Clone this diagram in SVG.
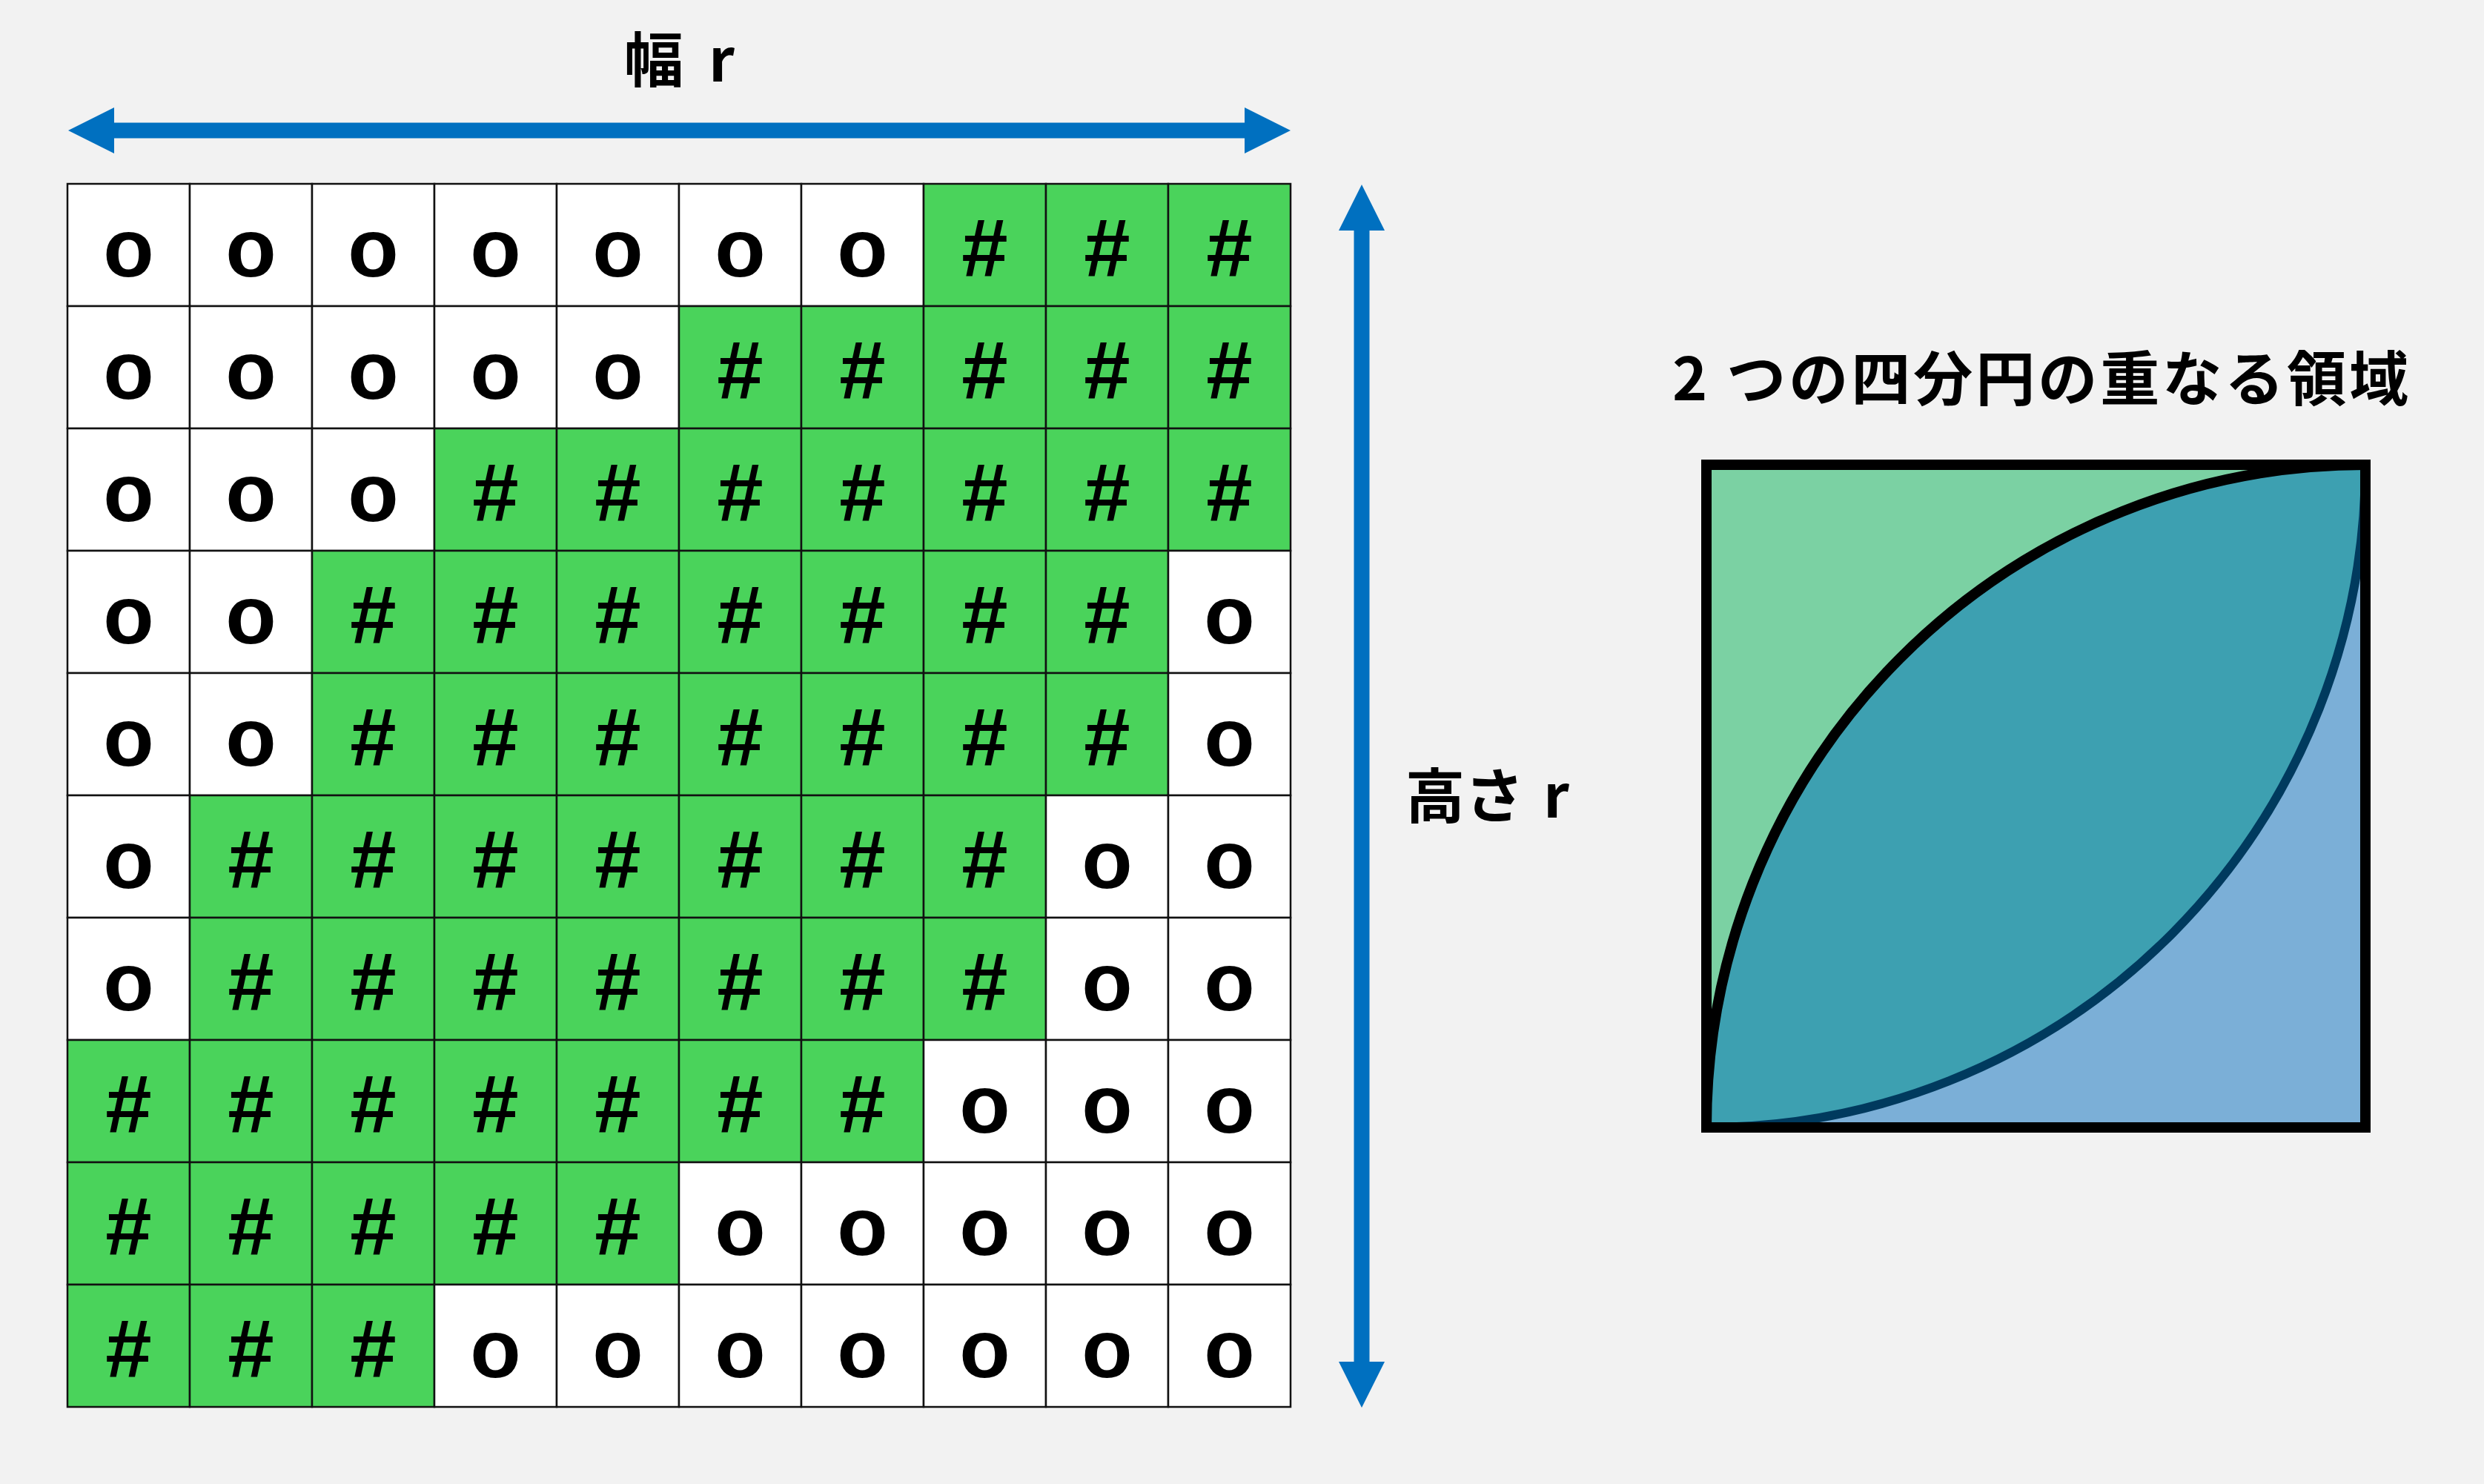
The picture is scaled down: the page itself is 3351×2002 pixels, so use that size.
<svg xmlns="http://www.w3.org/2000/svg" width="3351" height="2002" viewBox="0 0 3351 2002">
<style>
.w{fill:#FFFFFF;stroke:#111111;stroke-width:2.5}
.g{fill:#4AD35B;stroke:#111111;stroke-width:2.5}
.t{font-family:"Liberation Sans",Arial,sans-serif;font-weight:bold;font-size:112px;text-anchor:middle;fill:#000000}
.lbl{font-family:"Noto Sans CJK JP","Noto Sans",sans-serif;font-weight:bold;font-size:80px;fill:#000000}
.arr{stroke:#0070C0;stroke-width:21;fill:none}
</style>
<defs>
<marker id="ah" viewBox="0 0 62 62" markerUnits="userSpaceOnUse" markerWidth="62" markerHeight="62" refX="0" refY="31" orient="auto-start-reverse">
<path d="M0,0 L62,31 L0,62 Z" fill="#0070C0"/>
</marker>
</defs>
<rect x="0" y="0" width="3351" height="2002" fill="#F2F2F2"/>

<g id="grid">
<g id="c0-0"><rect class="w" x="91" y="248" width="165" height="165"/><text class="t" x="173.5" y="373">o</text></g>
<g id="c0-1"><rect class="w" x="256" y="248" width="165" height="165"/><text class="t" x="338.5" y="373">o</text></g>
<g id="c0-2"><rect class="w" x="421" y="248" width="165" height="165"/><text class="t" x="503.5" y="373">o</text></g>
<g id="c0-3"><rect class="w" x="586" y="248" width="165" height="165"/><text class="t" x="668.5" y="373">o</text></g>
<g id="c0-4"><rect class="w" x="751" y="248" width="165" height="165"/><text class="t" x="833.5" y="373">o</text></g>
<g id="c0-5"><rect class="w" x="916" y="248" width="165" height="165"/><text class="t" x="998.5" y="373">o</text></g>
<g id="c0-6"><rect class="w" x="1081" y="248" width="165" height="165"/><text class="t" x="1163.5" y="373">o</text></g>
<g id="c0-7"><rect class="g" x="1246" y="248" width="165" height="165"/><text class="t" x="1328.5" y="373">#</text></g>
<g id="c0-8"><rect class="g" x="1411" y="248" width="165" height="165"/><text class="t" x="1493.5" y="373">#</text></g>
<g id="c0-9"><rect class="g" x="1576" y="248" width="165" height="165"/><text class="t" x="1658.5" y="373">#</text></g>

<g id="c1-0"><rect class="w" x="91" y="413" width="165" height="165"/><text class="t" x="173.5" y="538">o</text></g>
<g id="c1-1"><rect class="w" x="256" y="413" width="165" height="165"/><text class="t" x="338.5" y="538">o</text></g>
<g id="c1-2"><rect class="w" x="421" y="413" width="165" height="165"/><text class="t" x="503.5" y="538">o</text></g>
<g id="c1-3"><rect class="w" x="586" y="413" width="165" height="165"/><text class="t" x="668.5" y="538">o</text></g>
<g id="c1-4"><rect class="w" x="751" y="413" width="165" height="165"/><text class="t" x="833.5" y="538">o</text></g>
<g id="c1-5"><rect class="g" x="916" y="413" width="165" height="165"/><text class="t" x="998.5" y="538">#</text></g>
<g id="c1-6"><rect class="g" x="1081" y="413" width="165" height="165"/><text class="t" x="1163.5" y="538">#</text></g>
<g id="c1-7"><rect class="g" x="1246" y="413" width="165" height="165"/><text class="t" x="1328.5" y="538">#</text></g>
<g id="c1-8"><rect class="g" x="1411" y="413" width="165" height="165"/><text class="t" x="1493.5" y="538">#</text></g>
<g id="c1-9"><rect class="g" x="1576" y="413" width="165" height="165"/><text class="t" x="1658.5" y="538">#</text></g>

<g id="c2-0"><rect class="w" x="91" y="578" width="165" height="165"/><text class="t" x="173.5" y="703">o</text></g>
<g id="c2-1"><rect class="w" x="256" y="578" width="165" height="165"/><text class="t" x="338.5" y="703">o</text></g>
<g id="c2-2"><rect class="w" x="421" y="578" width="165" height="165"/><text class="t" x="503.5" y="703">o</text></g>
<g id="c2-3"><rect class="g" x="586" y="578" width="165" height="165"/><text class="t" x="668.5" y="703">#</text></g>
<g id="c2-4"><rect class="g" x="751" y="578" width="165" height="165"/><text class="t" x="833.5" y="703">#</text></g>
<g id="c2-5"><rect class="g" x="916" y="578" width="165" height="165"/><text class="t" x="998.5" y="703">#</text></g>
<g id="c2-6"><rect class="g" x="1081" y="578" width="165" height="165"/><text class="t" x="1163.5" y="703">#</text></g>
<g id="c2-7"><rect class="g" x="1246" y="578" width="165" height="165"/><text class="t" x="1328.5" y="703">#</text></g>
<g id="c2-8"><rect class="g" x="1411" y="578" width="165" height="165"/><text class="t" x="1493.5" y="703">#</text></g>
<g id="c2-9"><rect class="g" x="1576" y="578" width="165" height="165"/><text class="t" x="1658.5" y="703">#</text></g>

<g id="c3-0"><rect class="w" x="91" y="743" width="165" height="165"/><text class="t" x="173.5" y="868">o</text></g>
<g id="c3-1"><rect class="w" x="256" y="743" width="165" height="165"/><text class="t" x="338.5" y="868">o</text></g>
<g id="c3-2"><rect class="g" x="421" y="743" width="165" height="165"/><text class="t" x="503.5" y="868">#</text></g>
<g id="c3-3"><rect class="g" x="586" y="743" width="165" height="165"/><text class="t" x="668.5" y="868">#</text></g>
<g id="c3-4"><rect class="g" x="751" y="743" width="165" height="165"/><text class="t" x="833.5" y="868">#</text></g>
<g id="c3-5"><rect class="g" x="916" y="743" width="165" height="165"/><text class="t" x="998.5" y="868">#</text></g>
<g id="c3-6"><rect class="g" x="1081" y="743" width="165" height="165"/><text class="t" x="1163.5" y="868">#</text></g>
<g id="c3-7"><rect class="g" x="1246" y="743" width="165" height="165"/><text class="t" x="1328.5" y="868">#</text></g>
<g id="c3-8"><rect class="g" x="1411" y="743" width="165" height="165"/><text class="t" x="1493.5" y="868">#</text></g>
<g id="c3-9"><rect class="w" x="1576" y="743" width="165" height="165"/><text class="t" x="1658.5" y="868">o</text></g>

<g id="c4-0"><rect class="w" x="91" y="908" width="165" height="165"/><text class="t" x="173.5" y="1033">o</text></g>
<g id="c4-1"><rect class="w" x="256" y="908" width="165" height="165"/><text class="t" x="338.5" y="1033">o</text></g>
<g id="c4-2"><rect class="g" x="421" y="908" width="165" height="165"/><text class="t" x="503.5" y="1033">#</text></g>
<g id="c4-3"><rect class="g" x="586" y="908" width="165" height="165"/><text class="t" x="668.5" y="1033">#</text></g>
<g id="c4-4"><rect class="g" x="751" y="908" width="165" height="165"/><text class="t" x="833.5" y="1033">#</text></g>
<g id="c4-5"><rect class="g" x="916" y="908" width="165" height="165"/><text class="t" x="998.5" y="1033">#</text></g>
<g id="c4-6"><rect class="g" x="1081" y="908" width="165" height="165"/><text class="t" x="1163.5" y="1033">#</text></g>
<g id="c4-7"><rect class="g" x="1246" y="908" width="165" height="165"/><text class="t" x="1328.5" y="1033">#</text></g>
<g id="c4-8"><rect class="g" x="1411" y="908" width="165" height="165"/><text class="t" x="1493.5" y="1033">#</text></g>
<g id="c4-9"><rect class="w" x="1576" y="908" width="165" height="165"/><text class="t" x="1658.5" y="1033">o</text></g>

<g id="c5-0"><rect class="w" x="91" y="1073" width="165" height="165"/><text class="t" x="173.5" y="1198">o</text></g>
<g id="c5-1"><rect class="g" x="256" y="1073" width="165" height="165"/><text class="t" x="338.5" y="1198">#</text></g>
<g id="c5-2"><rect class="g" x="421" y="1073" width="165" height="165"/><text class="t" x="503.5" y="1198">#</text></g>
<g id="c5-3"><rect class="g" x="586" y="1073" width="165" height="165"/><text class="t" x="668.5" y="1198">#</text></g>
<g id="c5-4"><rect class="g" x="751" y="1073" width="165" height="165"/><text class="t" x="833.5" y="1198">#</text></g>
<g id="c5-5"><rect class="g" x="916" y="1073" width="165" height="165"/><text class="t" x="998.5" y="1198">#</text></g>
<g id="c5-6"><rect class="g" x="1081" y="1073" width="165" height="165"/><text class="t" x="1163.5" y="1198">#</text></g>
<g id="c5-7"><rect class="g" x="1246" y="1073" width="165" height="165"/><text class="t" x="1328.5" y="1198">#</text></g>
<g id="c5-8"><rect class="w" x="1411" y="1073" width="165" height="165"/><text class="t" x="1493.5" y="1198">o</text></g>
<g id="c5-9"><rect class="w" x="1576" y="1073" width="165" height="165"/><text class="t" x="1658.5" y="1198">o</text></g>

<g id="c6-0"><rect class="w" x="91" y="1238" width="165" height="165"/><text class="t" x="173.5" y="1363">o</text></g>
<g id="c6-1"><rect class="g" x="256" y="1238" width="165" height="165"/><text class="t" x="338.5" y="1363">#</text></g>
<g id="c6-2"><rect class="g" x="421" y="1238" width="165" height="165"/><text class="t" x="503.5" y="1363">#</text></g>
<g id="c6-3"><rect class="g" x="586" y="1238" width="165" height="165"/><text class="t" x="668.5" y="1363">#</text></g>
<g id="c6-4"><rect class="g" x="751" y="1238" width="165" height="165"/><text class="t" x="833.5" y="1363">#</text></g>
<g id="c6-5"><rect class="g" x="916" y="1238" width="165" height="165"/><text class="t" x="998.5" y="1363">#</text></g>
<g id="c6-6"><rect class="g" x="1081" y="1238" width="165" height="165"/><text class="t" x="1163.5" y="1363">#</text></g>
<g id="c6-7"><rect class="g" x="1246" y="1238" width="165" height="165"/><text class="t" x="1328.5" y="1363">#</text></g>
<g id="c6-8"><rect class="w" x="1411" y="1238" width="165" height="165"/><text class="t" x="1493.5" y="1363">o</text></g>
<g id="c6-9"><rect class="w" x="1576" y="1238" width="165" height="165"/><text class="t" x="1658.5" y="1363">o</text></g>

<g id="c7-0"><rect class="g" x="91" y="1403" width="165" height="165"/><text class="t" x="173.5" y="1528">#</text></g>
<g id="c7-1"><rect class="g" x="256" y="1403" width="165" height="165"/><text class="t" x="338.5" y="1528">#</text></g>
<g id="c7-2"><rect class="g" x="421" y="1403" width="165" height="165"/><text class="t" x="503.5" y="1528">#</text></g>
<g id="c7-3"><rect class="g" x="586" y="1403" width="165" height="165"/><text class="t" x="668.5" y="1528">#</text></g>
<g id="c7-4"><rect class="g" x="751" y="1403" width="165" height="165"/><text class="t" x="833.5" y="1528">#</text></g>
<g id="c7-5"><rect class="g" x="916" y="1403" width="165" height="165"/><text class="t" x="998.5" y="1528">#</text></g>
<g id="c7-6"><rect class="g" x="1081" y="1403" width="165" height="165"/><text class="t" x="1163.5" y="1528">#</text></g>
<g id="c7-7"><rect class="w" x="1246" y="1403" width="165" height="165"/><text class="t" x="1328.5" y="1528">o</text></g>
<g id="c7-8"><rect class="w" x="1411" y="1403" width="165" height="165"/><text class="t" x="1493.5" y="1528">o</text></g>
<g id="c7-9"><rect class="w" x="1576" y="1403" width="165" height="165"/><text class="t" x="1658.5" y="1528">o</text></g>

<g id="c8-0"><rect class="g" x="91" y="1568" width="165" height="165"/><text class="t" x="173.5" y="1693">#</text></g>
<g id="c8-1"><rect class="g" x="256" y="1568" width="165" height="165"/><text class="t" x="338.5" y="1693">#</text></g>
<g id="c8-2"><rect class="g" x="421" y="1568" width="165" height="165"/><text class="t" x="503.5" y="1693">#</text></g>
<g id="c8-3"><rect class="g" x="586" y="1568" width="165" height="165"/><text class="t" x="668.5" y="1693">#</text></g>
<g id="c8-4"><rect class="g" x="751" y="1568" width="165" height="165"/><text class="t" x="833.5" y="1693">#</text></g>
<g id="c8-5"><rect class="w" x="916" y="1568" width="165" height="165"/><text class="t" x="998.5" y="1693">o</text></g>
<g id="c8-6"><rect class="w" x="1081" y="1568" width="165" height="165"/><text class="t" x="1163.5" y="1693">o</text></g>
<g id="c8-7"><rect class="w" x="1246" y="1568" width="165" height="165"/><text class="t" x="1328.5" y="1693">o</text></g>
<g id="c8-8"><rect class="w" x="1411" y="1568" width="165" height="165"/><text class="t" x="1493.5" y="1693">o</text></g>
<g id="c8-9"><rect class="w" x="1576" y="1568" width="165" height="165"/><text class="t" x="1658.5" y="1693">o</text></g>

<g id="c9-0"><rect class="g" x="91" y="1733" width="165" height="165"/><text class="t" x="173.5" y="1858">#</text></g>
<g id="c9-1"><rect class="g" x="256" y="1733" width="165" height="165"/><text class="t" x="338.5" y="1858">#</text></g>
<g id="c9-2"><rect class="g" x="421" y="1733" width="165" height="165"/><text class="t" x="503.5" y="1858">#</text></g>
<g id="c9-3"><rect class="w" x="586" y="1733" width="165" height="165"/><text class="t" x="668.5" y="1858">o</text></g>
<g id="c9-4"><rect class="w" x="751" y="1733" width="165" height="165"/><text class="t" x="833.5" y="1858">o</text></g>
<g id="c9-5"><rect class="w" x="916" y="1733" width="165" height="165"/><text class="t" x="998.5" y="1858">o</text></g>
<g id="c9-6"><rect class="w" x="1081" y="1733" width="165" height="165"/><text class="t" x="1163.5" y="1858">o</text></g>
<g id="c9-7"><rect class="w" x="1246" y="1733" width="165" height="165"/><text class="t" x="1328.5" y="1858">o</text></g>
<g id="c9-8"><rect class="w" x="1411" y="1733" width="165" height="165"/><text class="t" x="1493.5" y="1858">o</text></g>
<g id="c9-9"><rect class="w" x="1576" y="1733" width="165" height="165"/><text class="t" x="1658.5" y="1858">o</text></g>
</g>

<g id="connectors">
<line class="arr" x1="154" y1="176" x2="1679" y2="176" marker-start="url(#ah)" marker-end="url(#ah)"/>
<line class="arr" x1="1837" y1="311" x2="1837" y2="1837" marker-start="url(#ah)" marker-end="url(#ah)"/>
</g>

<g id="label-width"><text class="lbl" x="842" y="110" xml:space="preserve">幅 <tspan x="956">r</tspan></text></g>
<g id="label-height"><text class="lbl" x="1896" y="1103" xml:space="preserve">高さ <tspan x="2082">r</tspan></text></g>
<g id="label-title"><text class="lbl" x="2256" y="540" letter-spacing="4">2 つの四分円の重なる領域</text></g>

<g id="quarter-circles">
<rect x="2302" y="627" width="889" height="894" fill="#7BD1A3"/>
<path d="M3191,1521 L2302,1521 A889,894 0 0 1 3191,627 Z" fill="#7BAFD7"/>
<path d="M2302,1521 A889,894 0 0 1 3191,627 A889,894 0 0 1 2302,1521 Z" fill="#3DA0B1"/>
<path d="M3191,627 A889,894 0 0 1 2302,1521" fill="none" stroke="#003A5E" stroke-width="12"/>
<path d="M2302,1521 A889,894 0 0 1 3191,627" fill="none" stroke="#000000" stroke-width="14"/>
<rect x="2302" y="627" width="889" height="894" fill="none" stroke="#000000" stroke-width="14"/>
</g>
</svg>
